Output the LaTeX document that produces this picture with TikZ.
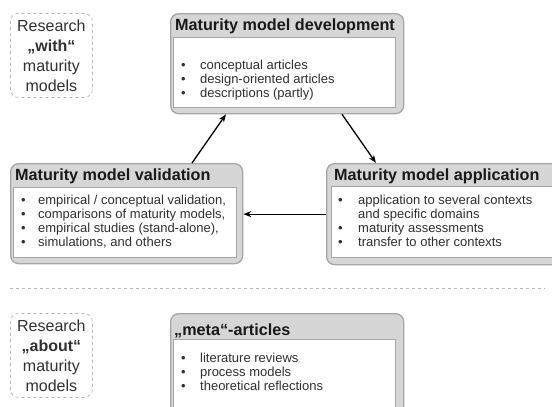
\documentclass[tikz,border=0pt]{standalone}
\usepackage{fontspec}
\setmainfont{Liberation Sans}
\usetikzlibrary{positioning,arrows.meta,calc}

\definecolor{boxgray}{HTML}{D6D6D6}
\definecolor{framegray}{HTML}{A6A6A6}
\definecolor{textgray}{HTML}{303030}

% one bullet line of a list
\newcommand{\itm}[1]{\textbullet & #1\\}
\newcommand{\cont}[1]{ & #1\\}

\begin{document}
\begin{tikzpicture}[
    x=1pt, y=-1pt,
    outerbox/.style={rectangle, draw=framegray, fill=boxgray, line width=1.3pt, rounded corners=8pt, anchor=north west, inner sep=0pt},
    innerbox/.style={rectangle, draw=framegray, fill=white, line width=0.6pt, anchor=north west, inner sep=0pt},
    titletext/.style={anchor=base west, inner sep=0pt, font=\fontsize{16.2}{19}\selectfont\bfseries, text=black!90},
    bodytext/.style={anchor=base west, inner sep=0pt, font=\fontsize{13}{14}\selectfont, text=textgray},
    researchbox/.style={rectangle, draw=framegray!80, dashed, line width=0.8pt, rounded corners=8pt, anchor=north west, minimum width=82pt, minimum height=84pt, align=center, font=\fontsize{16}{20}\selectfont, text=textgray},
    arrow/.style={-{Stealth[length=8pt,width=6pt]}, line width=1.3pt},
    sepline/.style={draw=framegray!80, dashed, line width=0.6pt}
]
\useasboundingbox (0,0) rectangle (552,407);
\clip (0,0) rectangle (552,407);

% upper part
\node[researchbox] (with) at (10,13) {Research\\\textbf{„with“}\\maturity\\models};

% development
\node[outerbox, minimum width=233pt, minimum height=100pt] (dev) at (170,13) {};
\node[innerbox, minimum width=222pt, minimum height=70pt] (devbody) at (173,37) {};
\node[titletext] (devtitle) at (175,30) {Maturity model development};
\node[bodytext] (devlist) at (181,69) {\begin{tabular}[t]{@{}p{19pt}@{}l@{}}
  \itm{conceptual articles}
  \itm{design-oriented articles}
  \itm{descriptions (partly)}
\end{tabular}};

% validation
\node[outerbox, minimum width=232pt, minimum height=100pt] (val) at (10,163) {};
\node[innerbox, minimum width=223pt, minimum height=70pt] (valbody) at (13,187) {};
\node[titletext] (valtitle) at (15,180) {Maturity model validation};
\node[bodytext] (vallist) at (21,204) {\begin{tabular}[t]{@{}p{17pt}@{}l@{}}
  \itm{empirical / conceptual validation,}
  \itm{comparisons of maturity models,}
  \itm{empirical studies (stand-alone),}
  \itm{simulations, and others}
\end{tabular}};

% application
\node[outerbox, minimum width=234pt, minimum height=101pt] (app) at (326,163) {};
\node[innerbox, minimum width=225pt, minimum height=71pt] (appbody) at (331,186) {};
\node[titletext] (apptitle) at (334,180) {Maturity model application};
\node[bodytext] (applist) at (338,204) {\begin{tabular}[t]{@{}p{20pt}@{}l@{}}
  \itm{application to several contexts}
  \cont{and specific domains}
  \itm{maturity assessments}
  \itm{transfer to other contexts}
\end{tabular}};

% cycle
\draw[arrow] ([xshift=182pt]val.north west) -- ([xshift=56pt]dev.south west);
\draw[arrow] ([xshift=172pt]dev.south west) -- ([xshift=50pt]app.north west);
\draw[arrow] (app.west) -- (app.west -| val.east);

% separator
\draw[sepline] (10,288) -- (545,288);

% lower part
\node[researchbox] (about) at (10,313) {Research\\\textbf{„about“}\\maturity\\models};

\node[outerbox, minimum width=233pt, minimum height=110pt] (meta) at (170,313) {};
\node[innerbox, minimum width=222pt, minimum height=90pt] (metabody) at (173,339) {};
\node[titletext] (metatitle) at (174,335) {„meta“-articles};
\node[bodytext] (metalist) at (181,362) {\begin{tabular}[t]{@{}p{19pt}@{}l@{}}
  \itm{literature reviews}
  \itm{process models}
  \itm{theoretical reflections}
\end{tabular}};
\end{tikzpicture}
\end{document}
